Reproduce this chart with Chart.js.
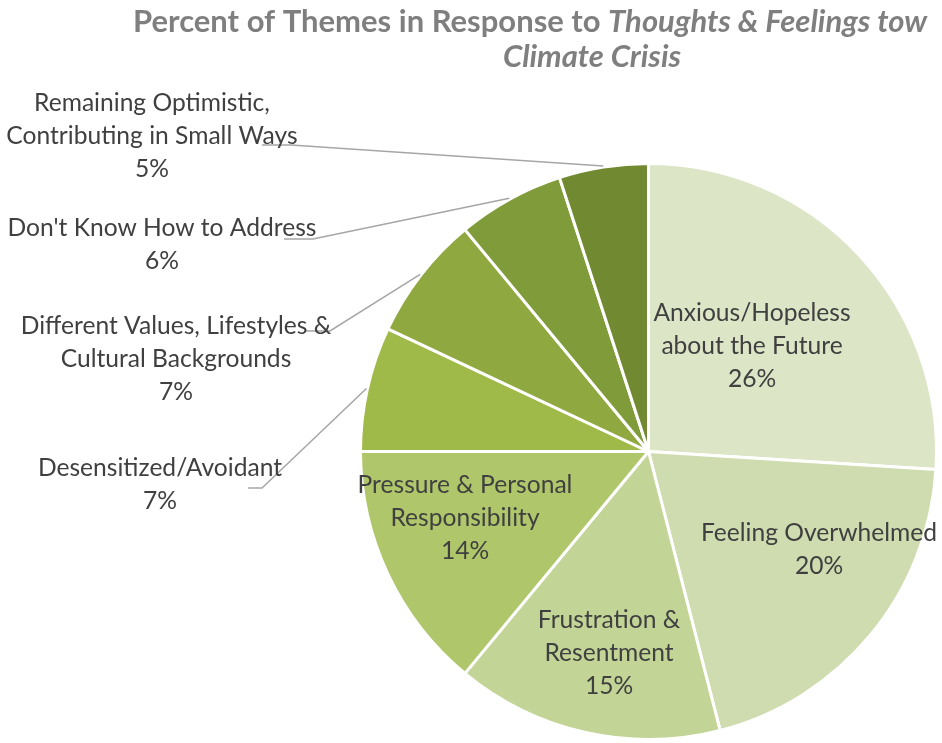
<!DOCTYPE html>
<html>
<head>
<meta charset="utf-8">
<script src="https://cdn.jsdelivr.net/npm/chart.js@4/dist/chart.umd.min.js"></script>
<style>
  body { margin: 0; background: #fff; }
  #wrap { width: 942px; height: 743px; position: relative; }
</style>
</head>
<body>
<div id="wrap"><canvas id="chart1"></canvas></div>
<script>
const themes = [
  ["Anxious/Hopeless", "about the Future"],
  ["Feeling Overwhelmed"],
  ["Frustration &", "Resentment"],
  ["Pressure & Personal", "Responsibility"],
  ["Desensitized/Avoidant"],
  ["Different Values, Lifestyles &", "Cultural Backgrounds"],
  ["Don't Know How to Address"],
  ["Remaining Optimistic,", "Contributing in Small Ways"],
];
const percents = [26, 20, 15, 14, 7, 7, 6, 5];
const sliceColors = [
  "#dce5c6", "#cfdcb0", "#c2d496", "#afc66a",
  "#a0ba49", "#8fa83f", "#809b3a", "#718a31",
];

// label placement (centre x, first line y); outside labels get a leader line
const labelSpots = [
  { x: 752, y: 313 },
  { x: 819, y: 533 },
  { x: 609, y: 620 },
  { x: 465, y: 485 },
  { x: 160, y: 468, elbow: [262, 488], end: [248, 488] },
  { x: 176, y: 326, elbow: [330, 331], end: [305, 331] },
  { x: 162, y: 228, elbow: [313, 239], end: [284, 239] },
  { x: 152, y: 103, elbow: [291, 145], end: [262, 145] },
];

const pieLabels = {
  id: "pieLabels",
  afterDraw(chart) {
    const ctx = chart.ctx;
    const arcs = chart.getDatasetMeta(0).data;
    ctx.save();

    // leader lines
    ctx.strokeStyle = "#a6a6a6";
    ctx.lineWidth = 1.5;
    arcs.forEach((arc, i) => {
      const spot = labelSpots[i];
      if (!spot.elbow) return;
      const p = arc.getProps(["x", "y", "startAngle", "endAngle", "outerRadius"], true);
      const mid = (p.startAngle + p.endAngle) / 2;
      const sx = p.x + Math.cos(mid) * (p.outerRadius + 1);
      const sy = p.y + Math.sin(mid) * (p.outerRadius + 1);
      ctx.beginPath();
      ctx.moveTo(sx, sy);
      ctx.lineTo(spot.elbow[0], spot.elbow[1]);
      ctx.lineTo(spot.end[0], spot.end[1]);
      ctx.stroke();
    });

    // label text
    ctx.fillStyle = "#404040";
    ctx.font = "24.6px Lato";
    ctx.textAlign = "center";
    ctx.textBaseline = "middle";
    themes.forEach((lines, i) => {
      const spot = labelSpots[i];
      const all = lines.concat([percents[i] + "%"]);
      all.forEach((t, j) => ctx.fillText(t, spot.x, spot.y + j * 33));
    });

    // title, first line is cut at the right edge like the original
    ctx.fillStyle = "#7f7f7f";
    ctx.textAlign = "left";
    ctx.textBaseline = "alphabetic";
    ctx.font = "bold 31px Lato";
    const part1 = "Percent of Themes in Response to ";
    ctx.fillText(part1, 133, 32);
    const w1 = ctx.measureText(part1).width;
    ctx.font = "italic bold 31px Lato";
    ctx.fillText("Thoughts & Feelings tow", 133 + w1, 32);
    ctx.textAlign = "center";
    ctx.fillText("Climate Crisis", 592, 67);
    ctx.restore();
  },
};

const ctx = document.getElementById("chart1").getContext("2d");
const myChart = new Chart(ctx, {
  type: "pie",
  data: {
    labels: themes.map((l) => l.join(" ")),
    datasets: [
      {
        data: percents,
        backgroundColor: sliceColors,
        borderColor: "#ffffff",
        borderWidth: 3,
      },
    ],
  },
  options: {
    responsive: true,
    maintainAspectRatio: false,
    animation: false,
    layout: {
      padding: { left: 359, right: 4, top: 162, bottom: 2 },
    },
    plugins: {
      legend: { display: false },
      tooltip: { enabled: false },
    },
  },
  plugins: [pieLabels],
});
</script>
</body>
</html>
